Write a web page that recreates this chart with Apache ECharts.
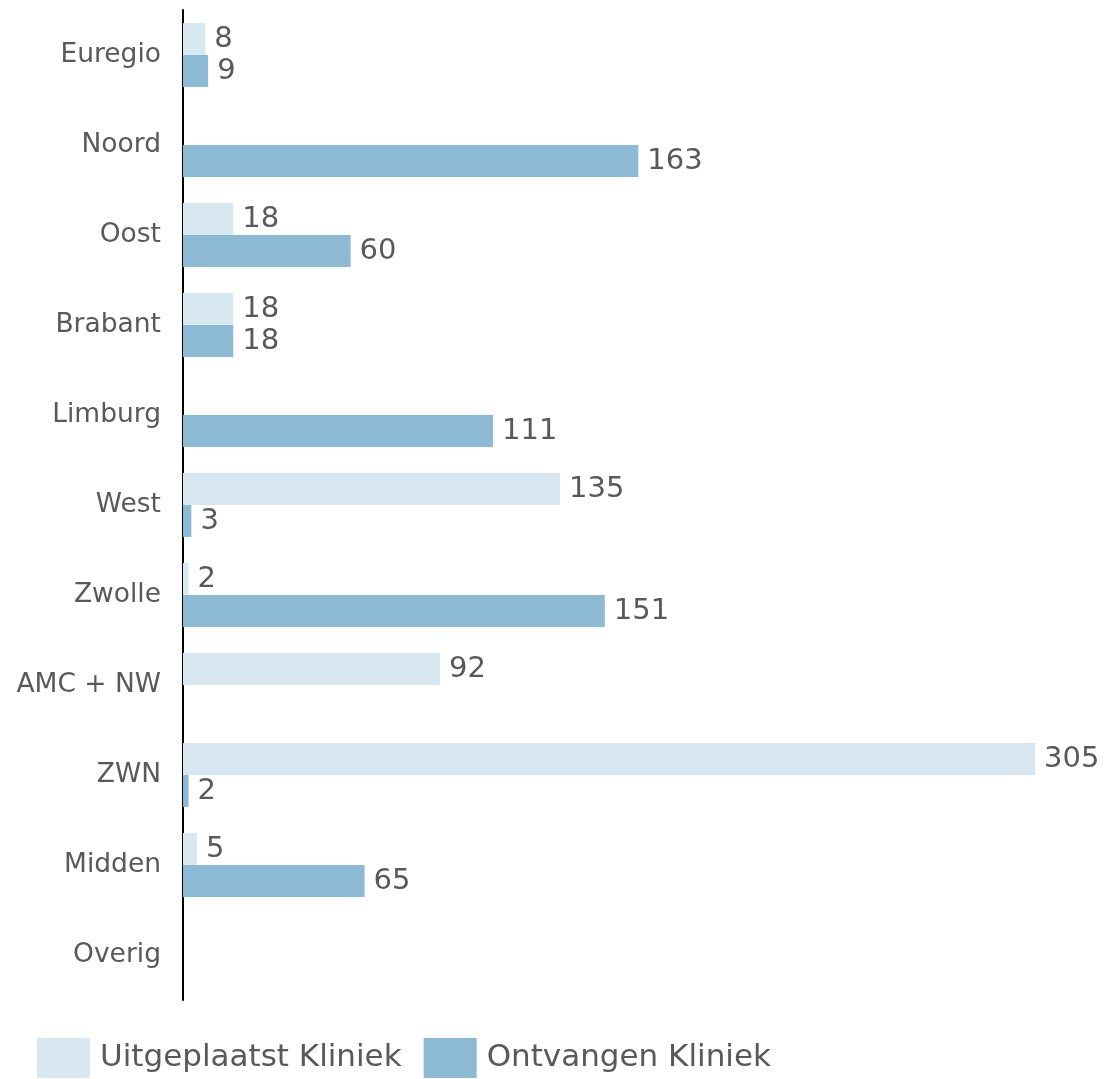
<!DOCTYPE html>
<html><head><meta charset="utf-8">
<script src="https://cdn.jsdelivr.net/npm/echarts@6/dist/echarts.min.js"></script>
<style>html,body{margin:0;padding:0;background:#fff}#c{width:1106px;height:1079px}</style>
</head><body><div id="c"></div>
<script>
const categories = ['Euregio','Noord','Oost','Brabant','Limburg','West','Zwolle','AMC + NW','ZWN','Midden','Overig'];
const uitgeplaatst = [8, null, 18, 18, null, 135, 2, 92, 305, 5, null];
const ontvangen = [9, 163, 60, 18, 111, 3, 151, null, 2, 65, null];
const seriesNames = ['Uitgeplaatst Kliniek','Ontvangen Kliniek'];
const FONT = 'DejaVu Sans';
const chart = echarts.init(document.getElementById('c'));
const lbl = {show:true, position:'right', distance:9, color:'#595959', fontSize:29, fontFamily:FONT};
chart.setOption({
  animation:false,
  grid:{left:183, right:71, top:10, bottom:79, containLabel:false},
  xAxis:{type:'value', min:0, max:305, show:false},
  yAxis:{type:'category', data:categories, inverse:true,
    axisLine:{show:true, lineStyle:{color:'#000', width:2}},
    axisTick:{show:false},
    axisLabel:{color:'#595959', fontSize:26.5, fontFamily:FONT, margin:22}},
  legend:{bottom:-4, left:32, itemWidth:53, itemHeight:40, itemGap:22, icon:'rect',
    textStyle:{color:'#595959', fontSize:31, fontFamily:FONT, padding:[4,0,0,5]}, itemStyle:{borderWidth:0}},
  series:[
    {name:seriesNames[0], type:'bar', data:uitgeplaatst, barGap:'0%', barCategoryGap:'29%',
     itemStyle:{color:'#d7e8f1'}, label:lbl},
    {name:seriesNames[1], type:'bar', data:ontvangen, barGap:'0%', barCategoryGap:'29%',
     itemStyle:{color:'#8cbad5'}, label:lbl}
  ]
});
</script></body></html>
